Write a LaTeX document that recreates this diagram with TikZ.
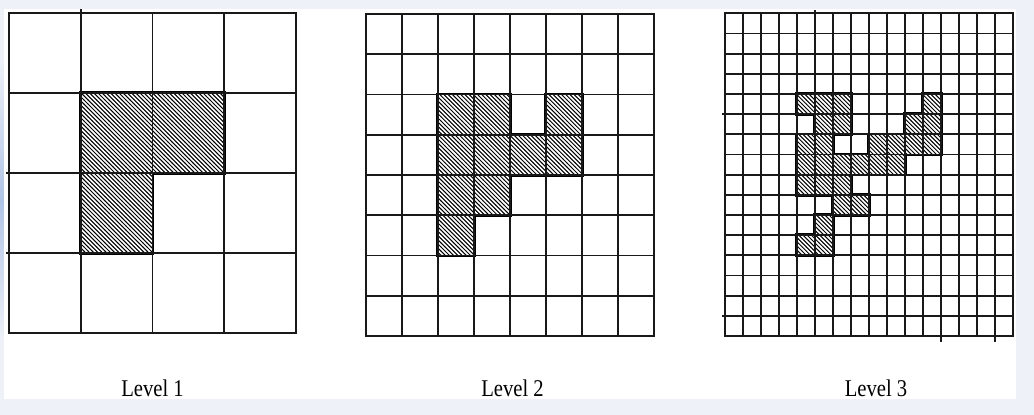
\documentclass[tikz,border=0pt]{standalone}
\usepackage{fontspec}
\setmainfont{Liberation Serif}
\usetikzlibrary{patterns}
\pgfdeclarepatternformonly{hatchnw}{\pgfqpoint{-1pt}{-1pt}}{\pgfqpoint{5.2pt}{5.2pt}}{\pgfqpoint{4.2pt}{4.2pt}}{%
  \pgfsetlinewidth{1.0pt}%
  \pgfpathmoveto{\pgfqpoint{-0.1pt}{4.3pt}}%
  \pgfpathlineto{\pgfqpoint{4.3pt}{-0.1pt}}%
  \pgfusepath{stroke}}
\definecolor{bgc}{RGB}{238,241,248}
\definecolor{bgblue}{RGB}{176,196,230}
\definecolor{gridc}{RGB}{25,25,25}
\tikzset{
  gridl/.style={draw=gridc, line width=1.8pt, line cap=rect},
  thickb/.style={draw=black, line width=3.4pt, line join=miter},
  hatchfill/.style={fill=white, postaction={pattern=hatchnw, pattern color=black}},
  lbl/.style={anchor=base, inner sep=0pt, font=\fontsize{24}{26}\selectfont}
}
\begin{document}
\begin{tikzpicture}[x=1pt,y=-1pt]
\useasboundingbox (0,0) rectangle (1034,415);
% background
\fill[bgc] (0,0) rectangle (1034,415);
\shade[top color=bgc, bottom color=bgc, middle color=bgblue] (0,60) rectangle (5,340);
\fill[white] (4,9) rectangle (1016,399);
% ---------- Level 1 ----------
\begin{scope}[shift={(9,13)}, x=71.75pt, y=-80pt]
  \foreach \c/\r in {1/1,2/1,1/2} \draw[thickb] (\c,\r) rectangle ++(1,1);
  \foreach \c/\r in {1/1,2/1,1/2} \path[hatchfill] (\c,\r) rectangle ++(1,1);
  \foreach \i in {0,...,4} {
    \draw[gridl] (\i,0) -- (\i,4);
    \draw[gridl] (0,\i) -- (4,\i);
  }
  \draw[gridl] (1,0) -- (1,-0.04);
  \draw[gridl] (0,2) -- (-0.03,2);
  \draw[gridl] (0,3) -- (-0.03,3);
\end{scope}
% ---------- Level 2 ----------
\begin{scope}[shift={(366,14)}, x=36pt, y=-40.25pt]
  \foreach \c/\r in {2/2,3/2,5/2,2/3,3/3,4/3,5/3,2/4,3/4,2/5} \draw[thickb] (\c,\r) rectangle ++(1,1);
  \foreach \c/\r in {2/2,3/2,5/2,2/3,3/3,4/3,5/3,2/4,3/4,2/5} \path[hatchfill] (\c,\r) rectangle ++(1,1);
  \foreach \i in {0,...,8} {
    \draw[gridl] (\i,0) -- (\i,8);
    \draw[gridl] (0,\i) -- (8,\i);
  }
\end{scope}
% ---------- Level 3 ----------
\begin{scope}[shift={(725,13.3)}, x=18pt, y=-20.17pt]
  \foreach \c/\r in {4/4,5/4,6/4,11/4,5/5,6/5,10/5,11/5,4/6,5/6,8/6,9/6,10/6,11/6,4/7,5/7,6/7,7/7,8/7,9/7,4/8,5/8,6/8,6/9,7/9,5/10,4/11,5/11}
    \draw[thickb] (\c,\r) rectangle ++(1,1);
  \foreach \c/\r in {4/4,5/4,6/4,11/4,5/5,6/5,10/5,11/5,4/6,5/6,8/6,9/6,10/6,11/6,4/7,5/7,6/7,7/7,8/7,9/7,4/8,5/8,6/8,6/9,7/9,5/10,4/11,5/11}
    \path[hatchfill] (\c,\r) rectangle ++(1,1);
  \foreach \i in {0,...,16} {
    \draw[gridl] (\i,0) -- (\i,16);
    \draw[gridl] (0,\i) -- (16,\i);
  }
  \draw[gridl] (5,0) -- (5,-0.12);
  \draw[gridl] (0,5) -- (-0.12,5);
  \draw[gridl] (0,15) -- (-0.1,15);
  \draw[gridl] (12,16) -- (12,16.25);
  \draw[gridl] (15,16) -- (15,16.25);
\end{scope}
% labels
\node[lbl] (l1) at (152.5,396) {\scalebox{0.86}[1]{Level 1}};
\node[lbl] (l2) at (512.5,396) {\scalebox{0.86}[1]{Level 2}};
\node[lbl] (l3) at (876,396) {\scalebox{0.86}[1]{Level 3}};
\end{tikzpicture}
\end{document}
